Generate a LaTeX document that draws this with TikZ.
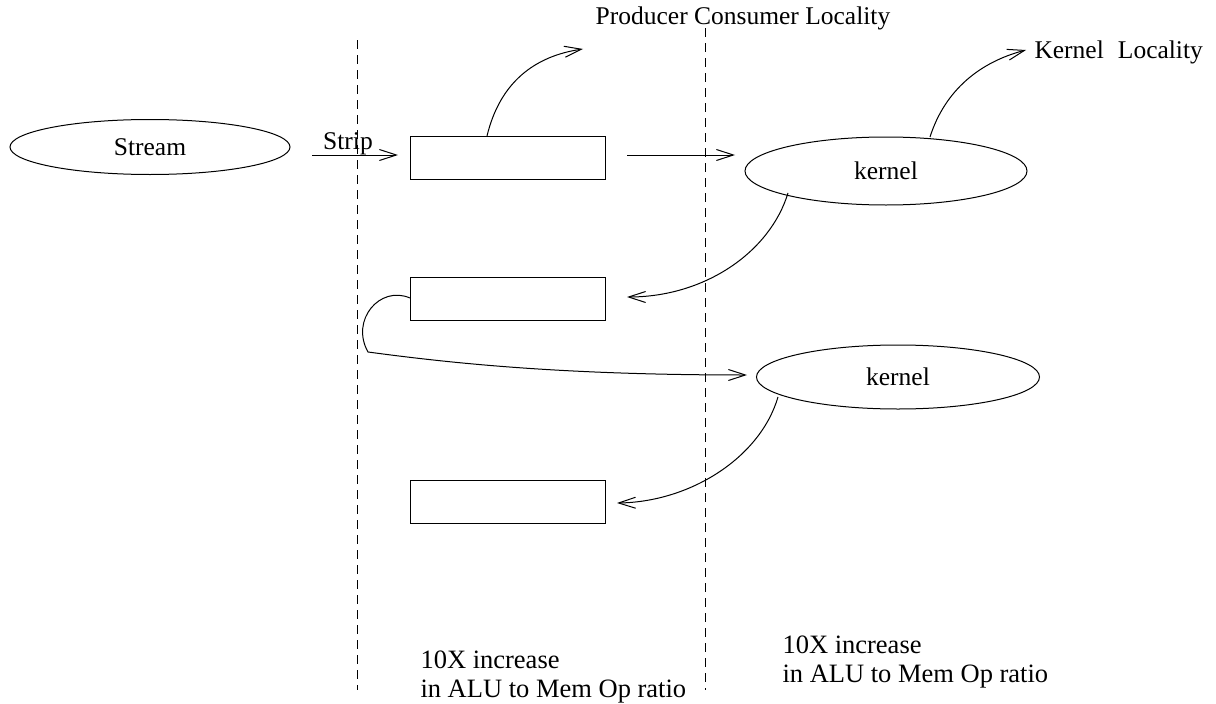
\documentclass[tikz,border=0pt]{standalone}
\usepackage{fontspec}
\setmainfont{Liberation Serif}
\usetikzlibrary{shapes.geometric,arrows.meta,calc}
\begin{document}
\begin{tikzpicture}[x=1pt,y=-1pt,
  line width=1pt,
  lbl/.style={font=\fontsize{25.5}{29}\selectfont, inner sep=0pt},
  note/.style={font=\fontsize{26.5}{29}\selectfont, inner sep=0pt, align=left},
  oval/.style={draw, ellipse, inner sep=0pt, font=\fontsize{25.5}{29}\selectfont},
  strbox/.style={draw, minimum width=195pt, minimum height=43pt, inner sep=0pt},
  arr/.style={-{Straight Barb[length=17pt,width=11pt,line width=1pt]}},
  divider/.style={dashed, dash pattern=on 9pt off 6pt, line width=1pt}]
\useasboundingbox (0,0) rectangle (1216,704);

% region dividers
\draw[divider] (357,40) -- (357,690);
\draw[divider] (705,28) -- (705,690);

% stream and kernels
\node[oval, minimum width=280pt, minimum height=55pt] (stream) at (150,147) {Stream};
\node[oval, minimum width=282pt, minimum height=68pt] (k1) at (886,171) {kernel};
\node[oval, minimum width=283pt, minimum height=64pt] (k2) at (898,377) {kernel};

% strips in the stream register file
\node[strbox] (b1) at (507.5,157.5) {};
\node[strbox] (b2) at (507.5,298.5) {};
\node[strbox] (b3) at (507.5,502) {};

% labels
\node[lbl] (pcl) at (743,18) {Producer Consumer Locality};
\node[lbl, anchor=west] (kl) at (1034,52) {Kernel\hspace{0.55em}Locality};
\node[lbl, anchor=base] (strip) at (348,149) {Strip};
\node[note, anchor=north west] (note1) at (420,650) {10X increase\\in ALU to Mem Op ratio};
\node[note, anchor=north west] (note2) at (782,635) {10X increase\\in ALU to Mem Op ratio};

% free ends of the connectors
\coordinate (stripS) at (312,155);
\coordinate (stripE) at (398,155);
\coordinate (b1out) at (627,155);
\coordinate (k1in) at (735,155);
\coordinate (pclE) at (583,49);
\coordinate (klE) at (1026,50);
\coordinate (b1top) at (487,136);
\coordinate (k1top) at (930,137);
\coordinate (k1bot) at (788,193);
\coordinate (k2bot) at (778,397);
\coordinate (b2in) at (627,297);
\coordinate (b3in) at (617,503);
\coordinate (b2left) at (410,298);
\coordinate (loopEnd) at (368,352);
\coordinate (k2in) at (747,375);

% connectors
\draw[arr] (stripS) -- (stripE);
\draw[arr] (b1out) -- (k1in);
\draw[arr] (b1top) .. controls (500,82) and (535,56) .. (pclE);
\draw[arr] (k1top) .. controls (945,90) and (980,62) .. (klE);
\draw[arr] (k1bot) .. controls (770,252) and (705,297) .. (b2in);
\draw[arr] (k2bot) .. controls (760,458) and (690,502) .. (b3in);
\draw[arr] (b2left) .. controls (380,285) and (350,320) .. (loopEnd)
  .. controls (450,363) and (560,375) .. (k2in);
\end{tikzpicture}
\end{document}
